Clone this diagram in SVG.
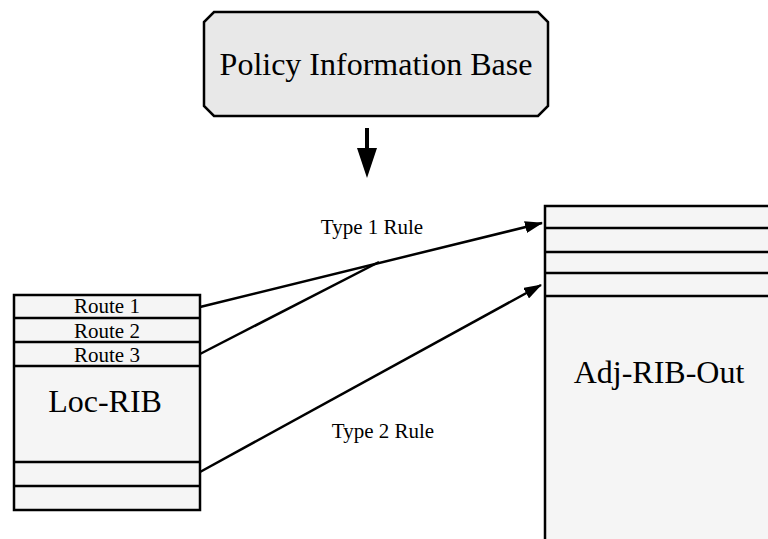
<svg xmlns="http://www.w3.org/2000/svg" width="768" height="539" viewBox="0 0 768 539">
<defs>
<style>
.box{stroke:#000;stroke-width:2.5;fill:#f5f5f5}
.pib{stroke:#000;stroke-width:2.5;fill:#e8e8e8}
.sep{stroke:#000;stroke-width:2.5}
.t{font-family:"Liberation Serif","Times New Roman",serif;fill:#000;text-anchor:middle}
.big{font-size:32px}
.small{font-size:21px}
.conn{stroke:#000;stroke-width:2.5;fill:none}
</style>
<marker id="ah" markerWidth="18" markerHeight="12" refX="17" refY="6" orient="auto" markerUnits="userSpaceOnUse">
<path d="M0,0 L18,6 L0,12 Z" fill="#000"/>
</marker>
</defs>
<rect width="768" height="539" fill="#fff"/>
<g id="pib">
<path class="pib" d="M214,12 H538 L548,22 V106 L538,116 H214 L204,106 V22 Z"/>
<text class="t big" x="376" y="75">Policy Information Base</text>
</g>
<g id="loc-rib">
<rect class="box" x="14" y="295" width="186" height="215"/>
<line class="sep" x1="14" y1="318" x2="200" y2="318"/>
<line class="sep" x1="14" y1="342" x2="200" y2="342"/>
<line class="sep" x1="14" y1="366" x2="200" y2="366"/>
<line class="sep" x1="14" y1="462" x2="200" y2="462"/>
<line class="sep" x1="14" y1="486" x2="200" y2="486"/>
<text class="t small" x="107" y="313">Route 1</text>
<text class="t small" x="107" y="338">Route 2</text>
<text class="t small" x="107" y="362">Route 3</text>
<text class="t big" x="105" y="412">Loc-RIB</text>
</g>
<g id="adj-rib-out">
<rect class="box" x="545" y="206" width="240" height="350"/>
<line class="sep" x1="545" y1="228" x2="768" y2="228"/>
<line class="sep" x1="545" y1="252" x2="768" y2="252"/>
<line class="sep" x1="545" y1="273" x2="768" y2="273"/>
<line class="sep" x1="545" y1="296" x2="768" y2="296"/>
<text class="t big" x="659" y="383">Adj-RIB-Out</text>
</g>
<g id="connectors">
<path d="M367,128 V150" stroke="#000" stroke-width="4" fill="none"/>
<path d="M357,148 L377,148 L367,178 Z" fill="#000"/>
<line class="conn" x1="200" y1="307" x2="542" y2="223" marker-end="url(#ah)"/>
<line class="conn" x1="200" y1="354" x2="379" y2="262"/>
<line class="conn" x1="200" y1="472" x2="541" y2="285" marker-end="url(#ah)"/>
<text class="t small" x="372" y="234">Type 1 Rule</text>
<text class="t small" x="383" y="438">Type 2 Rule</text>
</g>
</svg>
